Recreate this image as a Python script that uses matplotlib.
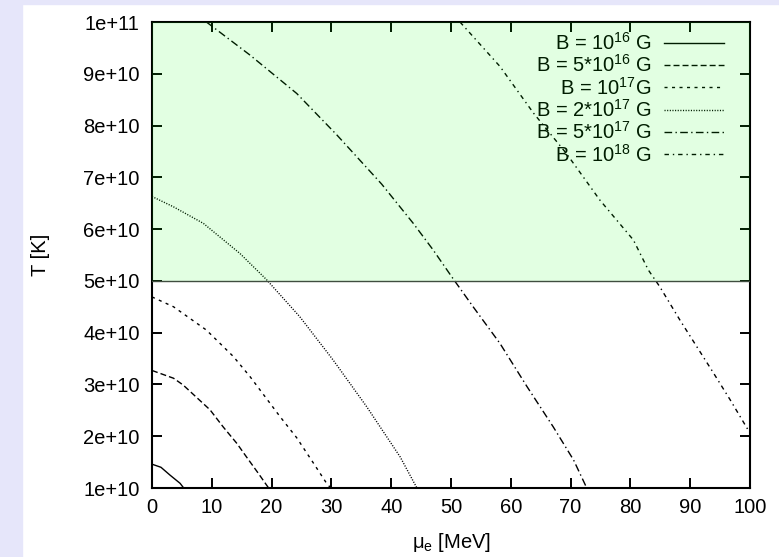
import matplotlib
matplotlib.use("Agg")
import matplotlib.pyplot as plt
from matplotlib.patches import Rectangle

plt.rcParams['font.family'] = ['Liberation Sans', 'DejaVu Sans']
plt.rcParams['mathtext.fontset'] = 'custom'
plt.rcParams['mathtext.rm'] = 'Liberation Sans'
plt.rcParams['mathtext.it'] = 'Liberation Sans'
plt.rcParams['mathtext.bf'] = 'Liberation Sans:bold'

# ---- data (mu_e in MeV, T in K) ----
mu_1e16 = [0.0, 1.5, 3.0, 4.7, 5.3]
T_1e16 = [1.46e10, 1.40e10, 1.25e10, 1.09e10, 1.0e10]

mu_5e16 = [0.0, 3.6, 5.2, 9.7, 11.9, 14.2, 15.8, 17.8, 19.5]
T_5e16 = [3.27e10, 3.12e10, 2.99e10, 2.51e10, 2.18e10, 1.86e10, 1.60e10, 1.28e10, 1.0e10]

mu_1e17 = [0.0, 3.6, 9.1, 13.6, 16.4, 21.4, 24.2, 27.0, 29.2, 29.9]
T_1e17 = [4.69e10, 4.50e10, 4.05e10, 3.54e10, 3.15e10, 2.38e10, 1.97e10, 1.48e10, 1.09e10, 1.0e10]

mu_2e17 = [0.0, 3.6, 8.6, 14.7, 19.1, 24.7, 30.3, 35.9, 41.5, 44.3]
T_2e17 = [6.63e10, 6.43e10, 6.11e10, 5.53e10, 5.03e10, 4.31e10, 3.47e10, 2.57e10, 1.60e10, 1.0e10]

mu_5e17 = [9.1, 16.4, 24.2, 30.9, 38.4, 43.7, 47.0, 50.3, 53.7, 58.2, 62.7, 67.1, 70.5, 72.7]
T_5e17 = [10.0e10, 9.36e10, 8.62e10, 7.82e10, 6.87e10, 6.11e10, 5.60e10, 5.05e10, 4.50e10, 3.79e10,
          2.96e10, 2.18e10, 1.54e10, 1.0e10]

mu_1e18 = [51.5, 58.2, 63.8, 69.3, 74.9, 80.5, 83.0, 84.9, 88.3, 91.1, 93.9, 96.7, 100.0]
T_1e18 = [10.0e10, 9.14e10, 8.24e10, 7.46e10, 6.56e10, 5.79e10, 5.21e10, 4.89e10, 4.24e10, 3.73e10,
          3.22e10, 2.70e10, 2.06e10]

labels = [r'B = 10$^{16}$ G', r'B = 5*10$^{16}$ G', r'B = 10$^{17}$G',
          r'B = 2*10$^{17}$ G', r'B = 5*10$^{17}$ G', r'B = 10$^{18}$ G']

x_ticks = [0, 10, 20, 30, 40, 50, 60, 70, 80, 90, 100]
y_ticks = [1e10, 2e10, 3e10, 4e10, 5e10, 6e10, 7e10, 8e10, 9e10, 1e11]
y_tick_labels = ['1e+10', '2e+10', '3e+10', '4e+10', '5e+10', '6e+10', '7e+10', '8e+10', '9e+10', '1e+11']
shade_low, shade_high = 5e10, 1e11

# ---- figure ----
W, H = 779, 557
fig = plt.figure(figsize=(W / 100, H / 100), dpi=100, facecolor='white')
lav = '#e6e6fa'
fig.patches.append(Rectangle((0, 0), 22 / W, 1, transform=fig.transFigure, color=lav, zorder=0))
fig.patches.append(Rectangle((0, 1 - 4 / H), 1, 4 / H, transform=fig.transFigure, color=lav, zorder=0))

ax = fig.add_axes([152 / W, (H - 488) / H, (750 - 152) / W, (488 - 22) / H])
ax.set_facecolor('white')

series = [(mu_1e16, T_1e16, '-'),
          (mu_5e16, T_5e16, (0, (4.3, 2.2))),
          (mu_1e17, T_1e17, (0, (2.2, 3.2))),
          (mu_2e17, T_2e17, (0, (0.8, 1.1))),
          (mu_5e17, T_5e17, (0, (5.5, 2.4, 1.0, 2.4))),
          (mu_1e18, T_1e18, (0, (3.2, 2.8, 1.0, 2.8)))]
for (mx, ty, ls), lab in zip(series, labels):
    ax.plot(mx, ty, color='black', lw=1.0, linestyle=ls, label=lab)

ax.set_xlim(0, 100)
ax.set_ylim(1e10, 1e11)
ax.set_xticks(x_ticks)
ax.set_xticklabels([str(v) for v in x_ticks])
ax.set_yticks(y_ticks)
ax.set_yticklabels(y_tick_labels)
ax.minorticks_off()
ax.tick_params(direction='in', length=7, width=1.4, top=True, right=True,
               labelsize=14.5, colors='black')
ax.tick_params(axis='x', pad=7)
ax.tick_params(axis='y', pad=9)
for s in ax.spines.values():
    s.set_linewidth(1.5)

ax.set_xlabel('μ$_\\mathrm{e}$ [MeV]', fontsize=14.5, labelpad=10)
ax.set_ylabel('T [K]', fontsize=14.5, labelpad=24)

leg = ax.legend(loc='upper right', bbox_to_anchor=(1 - 26 / 598, 1 - 10 / 466),
                frameon=False, markerfirst=False, fontsize=14.5,
                handlelength=3.0, handletextpad=0.6, labelspacing=0.02,
                borderpad=0, borderaxespad=0)

ax.axhspan(shade_low, shade_high, facecolor=(0, 1, 0), alpha=0.115, lw=0, zorder=10)
ax.axhline(shade_low, color=(0.25, 0.3, 0.25), lw=1.0, zorder=11)

fig.savefig('out.png', dpi=100, facecolor=fig.get_facecolor())
